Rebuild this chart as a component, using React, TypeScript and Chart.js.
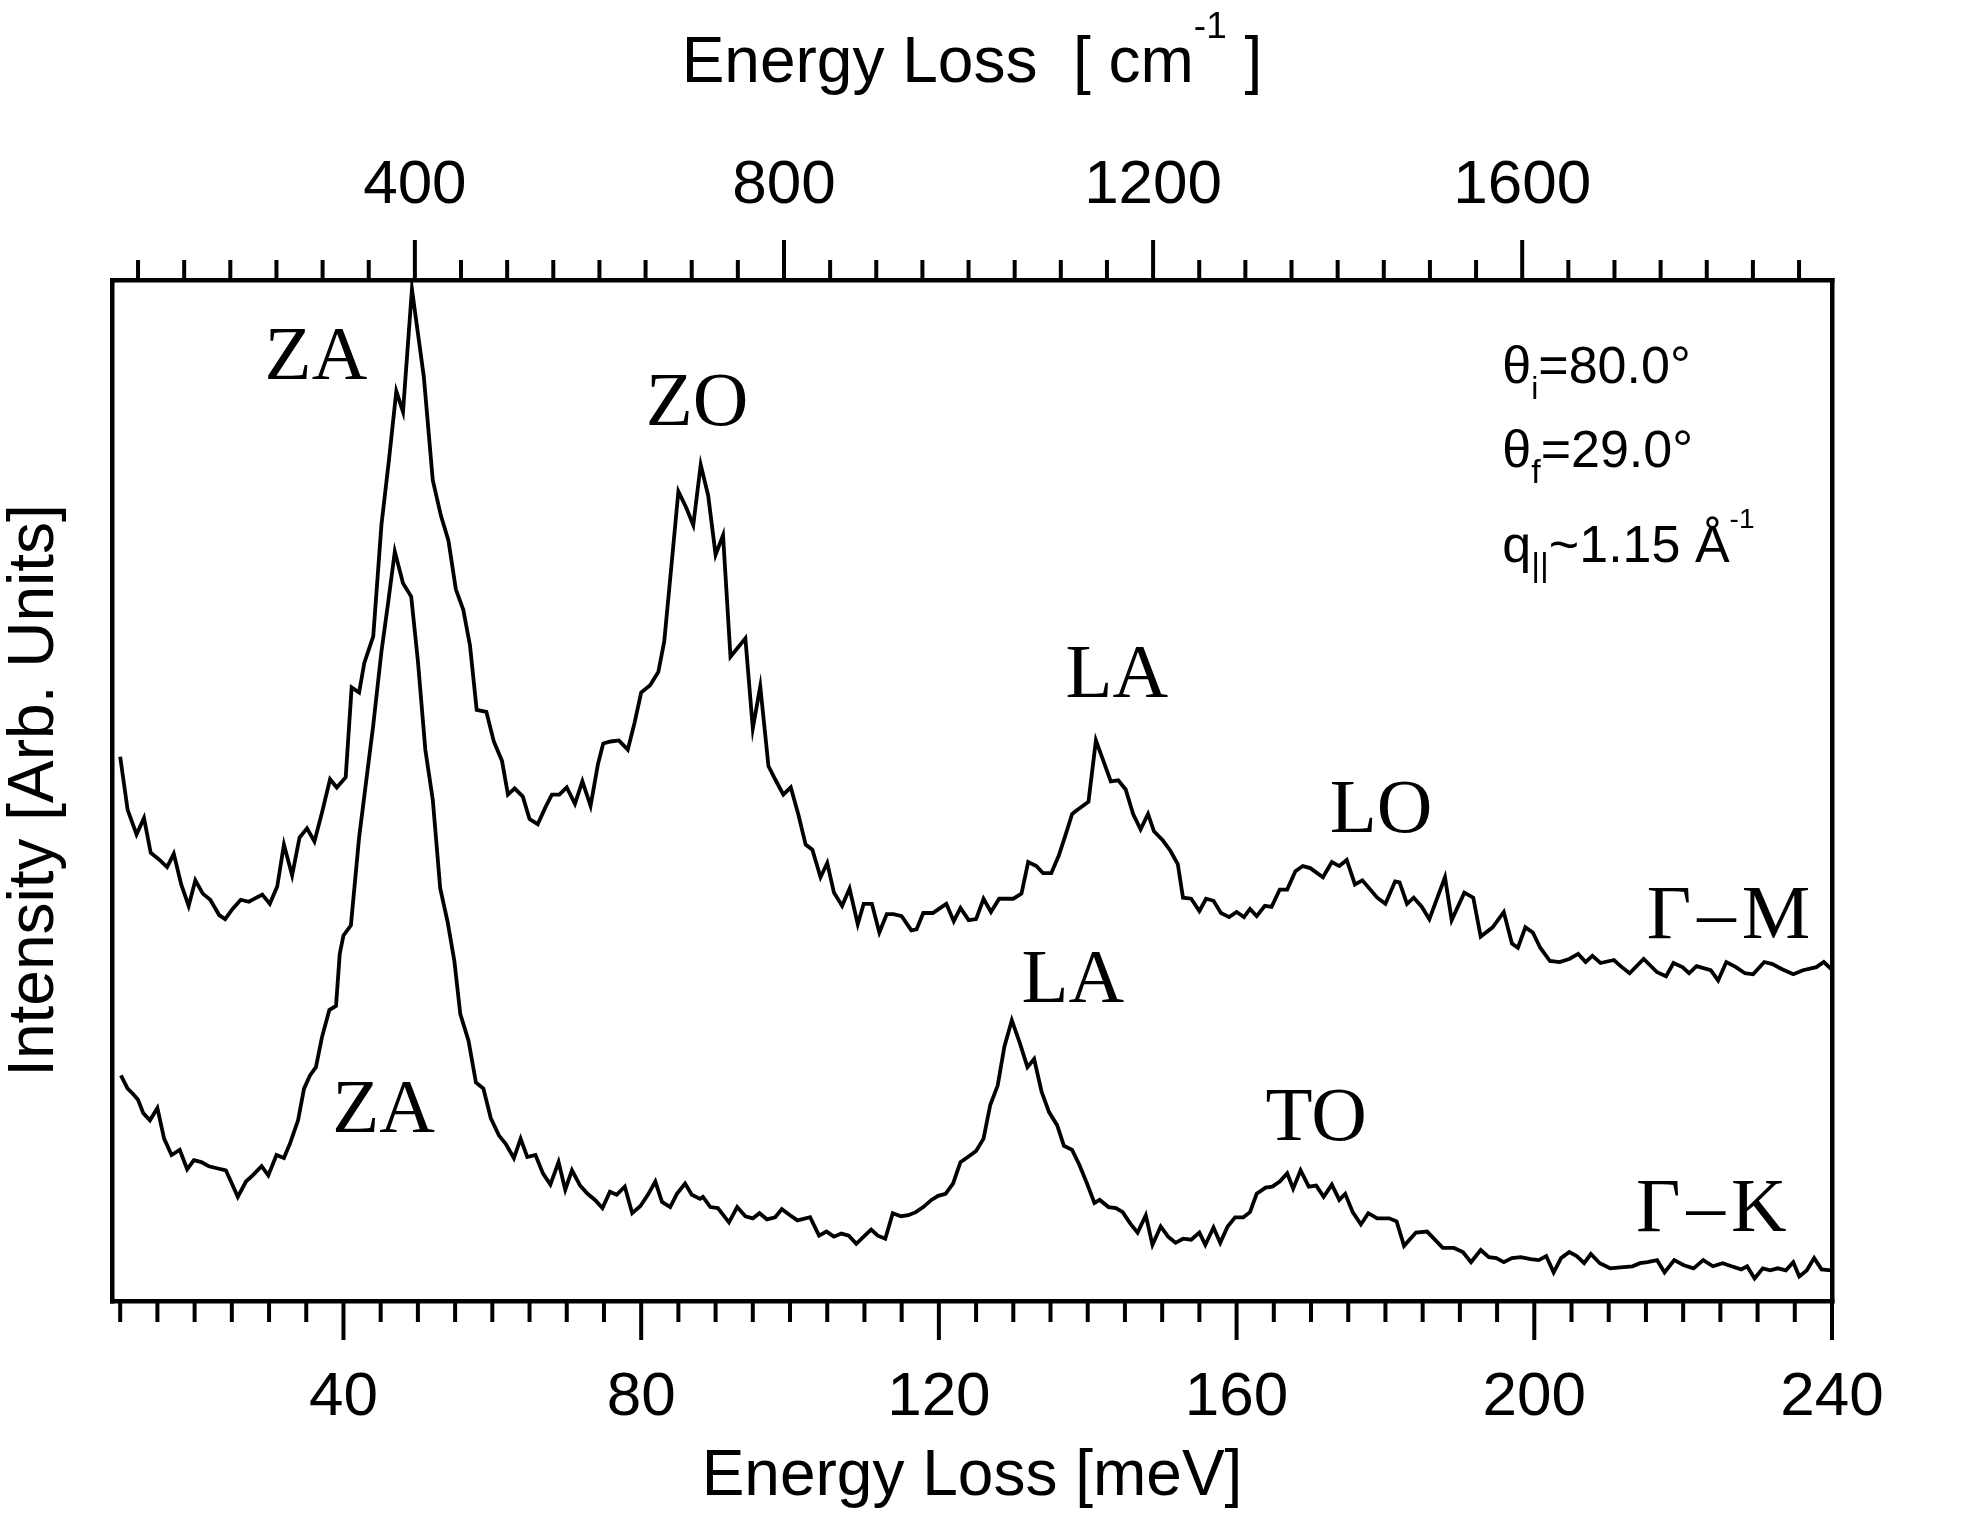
import React, { useEffect, useRef } from 'react';
import { Chart, registerables } from 'chart.js';

Chart.register(...registerables);

const SANS = '"Liberation Sans", Arial, sans-serif';
const SERIF = '"Liberation Serif", "Times New Roman", serif';

const MEV_TO_CM = 8.0655;
const X_MIN = 8.9;
const X_MAX = 240;
const Y_MIN = 0;
const Y_MAX = 100;

// Γ–M spectrum (upper curve)
const gmEnergy = [
  10.0, 11.0, 12.2, 13.2, 14.1, 15.3, 16.3, 17.2, 18.2, 19.2, 20.1, 21.1, 22.1, 23.3, 24.1, 25.1, 26.2, 27.3, 28.3, 29.1,
  30.1, 31.1, 32.0, 33.1, 34.1, 35.1, 36.1, 37.1, 38.2, 39.1, 40.3, 41.1, 42.1, 42.8, 44.0, 45.1, 46.1, 47.1, 48.0, 49.2,
  50.8, 52.0, 53.1, 54.1, 55.1, 56.1, 57.0, 57.9, 59.2, 60.2, 61.3, 62.1, 63.0, 64.1, 65.0, 66.1, 67.1, 68.0, 69.0, 70.0,
  71.1, 72.1, 73.2, 74.2, 74.9, 75.9, 77.0, 78.2, 79.1, 80.0, 81.2, 82.3, 83.1, 84.1, 85.0, 86.0, 87.0, 88.0, 89.0, 90.0,
  91.0, 92.0, 94.0, 95.0, 96.0, 97.1, 98.0, 99.1, 100.1, 101.1, 102.1, 103.0, 104.1, 105.0, 105.9, 107.0, 108.0, 109.1, 109.9, 111.0,
  112.0, 113.0, 113.9, 115.0, 116.3, 117.0, 117.9, 119.2, 120.0, 121.0, 122.0, 122.9, 124.0, 125.0, 126.0, 127.0, 128.1, 130.0, 131.1, 132.0,
  133.1, 134.0, 135.1, 136.1, 137.0, 137.9, 138.4, 140.1, 141.1, 142.1, 143.1, 144.1, 145.1, 146.1, 147.1, 148.1, 148.9, 150.1, 151.1, 152.1,
  152.8, 153.9, 155.0, 155.9, 156.9, 157.9, 159.0, 160.0, 161.0, 161.8, 162.7, 163.8, 164.7, 165.8, 166.8, 167.9, 168.9, 169.9, 171.6, 172.8,
  173.8, 174.8, 175.9, 176.9, 178.9, 180.0, 181.3, 181.9, 182.9, 183.8, 184.9, 185.9, 188.0, 188.9, 190.6, 191.8, 192.8, 194.4, 195.9, 197.0,
  197.8, 198.8, 199.8, 200.8, 202.1, 203.4, 204.7, 205.9, 206.9, 207.8, 208.9, 210.7, 211.6, 212.8, 214.7, 216.5, 217.7, 218.7, 219.9, 220.8,
  221.8, 223.7, 224.7, 225.8, 227.1, 228.3, 229.4, 230.9, 232.0, 233.3, 234.8, 236.1, 237.9, 238.9, 239.9,
];
const gmIntensity = [
  53.3, 48.1, 45.7, 47.3, 43.9, 43.2, 42.5, 43.8, 40.8, 38.7, 41.2, 39.9, 39.3, 37.8, 37.4, 38.4, 39.3, 39.1, 39.5, 39.8,
  38.9, 40.6, 44.7, 41.7, 45.4, 46.3, 45.0, 47.8, 51.1, 50.3, 51.3, 60.1, 59.6, 62.5, 65.1, 76.0, 82.3, 89.1, 87.1, 99.1,
  90.5, 80.4, 76.9, 74.5, 69.7, 67.7, 64.2, 57.9, 57.7, 54.8, 52.9, 49.6, 50.2, 49.4, 47.2, 46.7, 48.3, 49.6, 49.6, 50.3,
  48.7, 50.9, 48.5, 52.6, 54.6, 54.8, 54.9, 54.0, 56.6, 59.6, 60.3, 61.6, 64.6, 72.3, 79.3, 77.8, 76.0, 81.9, 78.9, 73.1,
  75.0, 63.1, 64.9, 56.1, 60.2, 52.4, 51.1, 49.6, 50.3, 47.7, 44.7, 44.2, 41.5, 42.9, 40.0, 38.7, 40.4, 36.9, 38.9, 38.9,
  36.1, 37.9, 37.9, 37.7, 36.3, 36.4, 38.0, 38.0, 38.4, 38.9, 37.2, 38.5, 37.3, 37.4, 39.4, 38.1, 39.4, 39.4, 39.9, 43.0,
  42.6, 41.9, 41.9, 43.6, 45.6, 47.7, 48.0, 48.9, 54.9, 52.9, 50.9, 51.0, 50.1, 47.7, 46.2, 47.7, 46.0, 45.1, 44.1, 42.8,
  39.5, 39.4, 38.2, 39.4, 39.2, 38.0, 37.6, 38.1, 37.6, 38.4, 37.7, 38.7, 38.6, 40.3, 40.3, 42.1, 42.6, 42.4, 41.5, 43.0,
  42.6, 43.2, 40.8, 41.2, 39.5, 38.9, 41.1, 41.0, 38.9, 39.5, 38.6, 37.4, 41.5, 37.3, 40.0, 39.5, 35.7, 36.6, 38.1, 35.0,
  34.6, 36.6, 36.1, 34.6, 33.3, 33.2, 33.5, 34.0, 33.2, 33.8, 33.1, 33.4, 32.8, 32.1, 33.5, 32.2, 31.8, 33.1, 32.7, 32.1,
  32.8, 32.4, 31.4, 33.2, 32.7, 32.1, 32.0, 33.2, 33.0, 32.5, 32.0, 32.4, 32.7, 33.2, 32.5,
];

// Γ–K spectrum (lower curve)
const gkEnergy = [
  10.1, 11.0, 11.7, 12.4, 13.1, 14.0, 15.0, 15.9, 16.9, 18.0, 19.0, 19.9, 20.9, 21.9, 23.0, 24.2, 25.0, 25.8, 26.9, 27.8,
  29.0, 29.9, 31.0, 32.0, 32.8, 33.9, 34.7, 35.5, 36.3, 37.1, 38.1, 39.0, 39.5, 40.0, 41.0, 42.1, 44.0, 45.1, 46.0, 46.9,
  48.0, 49.1, 50.0, 51.0, 52.0, 53.0, 54.0, 54.9, 55.7, 56.8, 57.8, 58.8, 59.8, 60.9, 61.8, 62.9, 63.8, 64.7, 65.8, 66.8,
  67.8, 68.9, 69.8, 70.7, 71.8, 72.8, 73.8, 74.8, 75.8, 76.7, 77.8, 78.8, 79.9, 80.9, 81.9, 82.8, 83.9, 84.8, 85.9, 86.8,
  87.9, 88.3, 89.3, 90.3, 91.8, 92.9, 94.0, 95.0, 95.9, 96.9, 98.0, 98.9, 100.0, 101.0, 102.7, 103.9, 104.9, 105.9, 106.9, 107.9,
  108.9, 109.9, 110.9, 111.8, 112.8, 113.8, 114.9, 115.9, 116.9, 117.9, 119.0, 119.9, 120.9, 121.9, 122.9, 123.9, 125.0, 126.0, 126.9, 127.9,
  128.8, 129.8, 130.9, 131.9, 132.8, 133.8, 134.8, 135.9, 136.8, 137.9, 138.9, 139.9, 140.9, 141.6, 142.8, 143.8, 144.7, 145.7, 146.7, 147.8,
  148.7, 149.8, 150.8, 151.8, 152.8, 153.9, 155.0, 155.8, 156.9, 157.8, 158.8, 159.8, 160.9, 161.8, 162.7, 163.9, 164.8, 165.8, 166.8, 167.6,
  168.6, 169.7, 170.7, 171.7, 172.8, 173.8, 174.6, 175.6, 176.7, 177.7, 178.9, 180.5, 181.5, 182.5, 184.1, 185.6, 187.7, 189.2, 190.4, 191.5,
  192.8, 193.9, 194.9, 195.9, 197.0, 198.2, 199.5, 200.6, 201.6, 202.6, 203.6, 204.7, 205.7, 206.7, 207.6, 208.8, 210.2, 211.6, 213.2, 214.2,
  215.2, 216.5, 217.5, 218.8, 220.1, 221.4, 222.7, 224.0, 225.3, 226.5, 227.8, 228.6, 229.6, 230.7, 231.7, 232.7, 233.8, 234.8, 235.6, 236.6,
  237.6, 238.6, 239.9,
];
const gkIntensity = [
  22.1, 20.8, 20.3, 19.7, 18.4, 17.7, 18.9, 15.9, 14.3, 14.8, 12.9, 13.8, 13.6, 13.2, 13.0, 12.8, 11.5, 10.2, 11.7, 12.3,
  13.2, 12.3, 14.3, 14.0, 15.4, 17.7, 20.8, 22.1, 22.9, 25.8, 28.5, 28.9, 34.0, 35.8, 36.8, 45.4, 56.4, 63.6, 68.4, 73.4,
  70.3, 69.0, 62.7, 54.0, 49.1, 40.4, 37.1, 33.3, 28.1, 25.5, 21.4, 20.8, 17.9, 16.2, 15.4, 14.0, 15.9, 14.1, 14.3, 12.5,
  11.4, 13.6, 10.9, 12.8, 11.3, 10.5, 9.9, 9.1, 10.7, 10.4, 11.2, 8.6, 9.3, 10.4, 11.7, 9.7, 9.2, 10.5, 11.5, 10.4,
  10.0, 10.2, 9.2, 9.1, 7.7, 9.2, 8.3, 8.1, 8.6, 8.0, 8.2, 9.0, 8.4, 7.9, 8.2, 6.4, 6.8, 6.3, 6.6, 6.4,
  5.6, 6.3, 7.0, 6.4, 6.1, 8.6, 8.3, 8.4, 8.7, 9.2, 9.9, 10.3, 10.5, 11.5, 13.6, 14.1, 14.7, 15.9, 19.2, 21.1,
  24.9, 27.5, 25.2, 22.9, 23.7, 20.5, 18.5, 17.2, 15.2, 14.8, 13.3, 11.5, 9.6, 9.9, 9.2, 9.1, 8.7, 7.6, 6.7, 8.4,
  5.5, 7.3, 6.3, 5.7, 6.1, 6.0, 6.7, 5.5, 7.2, 5.7, 7.3, 8.2, 8.2, 8.7, 10.5, 11.1, 11.2, 11.7, 12.5, 11.0,
  12.8, 11.2, 11.3, 10.2, 11.4, 9.9, 10.5, 8.7, 7.5, 8.6, 8.1, 8.1, 7.8, 5.4, 6.7, 6.8, 5.2, 5.2, 4.8, 3.8,
  5.0, 4.3, 4.2, 3.8, 4.2, 4.3, 4.1, 4.0, 4.4, 2.8, 4.2, 4.8, 4.4, 3.7, 4.6, 3.7, 3.2, 3.3, 3.4, 3.7,
  3.8, 4.0, 2.8, 4.0, 3.5, 3.2, 4.0, 3.4, 3.7, 3.4, 3.1, 3.4, 2.2, 3.2, 3.0, 3.2, 3.0, 3.8, 2.4, 3.0,
  4.2, 3.1, 3.0,
];

// Axis ticks
const bottomMajorLabels = [40, 80, 120, 160, 200, 240];
const bottomMinorStart = 10;
const bottomMinorStep = 5;
const topMajorLabels = [400, 800, 1200, 1600];
const topMinorStart = 100;
const topMinorStep = 50;

// Peak labels (energy in meV, intensity in plot units)
const peakLabelText = ['ZA', 'ZO', 'LA', 'LO', 'Γ–M', 'ZA', 'LA', 'TO', 'Γ–K'];
const peakLabelX = [36.3, 87.5, 143.9, 179.4, 226.5, 45.4, 138.0, 170.7, 224.2];
const peakLabelY = [90.3, 85.8, 59.2, 45.9, 35.6, 16.6, 29.3, 15.8, 6.9];

// Measurement parameters
const thetaI = '80.0';
const thetaF = '29.0';
const qParallel = '1.15';
const paramX = 195.7;
const paramY = [89.9, 81.7, 72.4];

type Seg = { text: string; size: number; dy?: number; w?: number };

function drawRich(ctx: CanvasRenderingContext2D, x: number, y: number, segs: Seg[], align: 'left' | 'center', family: string) {
  let total = 0;
  for (const s of segs) {
    ctx.font = `${s.size}px ${family}`;
    s.w = ctx.measureText(s.text).width;
    total += s.w;
  }
  let cx = align === 'center' ? x - total / 2 : x;
  ctx.textAlign = 'left';
  ctx.textBaseline = 'alphabetic';
  for (const s of segs) {
    ctx.font = `${s.size}px ${family}`;
    ctx.fillText(s.text, cx, y + (s.dy || 0));
    cx += s.w || 0;
  }
}

const decorPlugin = {
  id: 'decor',
  afterDraw(chart: any) {
    const ctx: CanvasRenderingContext2D = chart.ctx;
    const { x, x2, y } = chart.scales;
    const area = chart.chartArea;
    ctx.save();
    ctx.strokeStyle = '#000';
    ctx.fillStyle = '#000';
    ctx.lineWidth = 4;
    ctx.lineCap = 'butt';
    for (const t of x.ticks) {
      const px = x.getPixelForValue(t.value);
      const len = bottomMajorLabels.includes(t.value) ? 39 : 21;
      ctx.beginPath();
      ctx.moveTo(px, area.bottom);
      ctx.lineTo(px, area.bottom + len);
      ctx.stroke();
    }
    for (const t of x2.ticks) {
      const px = x2.getPixelForValue(t.value);
      const len = topMajorLabels.includes(t.value) ? 40 : 20;
      ctx.beginPath();
      ctx.moveTo(px, area.top);
      ctx.lineTo(px, area.top - len);
      ctx.stroke();
    }

    // top axis title with superscript
    drawRich(
      ctx,
      (x2.left + x2.right) / 2,
      x2.top + 82,
      [
        { text: 'Energy Loss  [ cm', size: 64 },
        { text: '-1', size: 37, dy: -44 },
        { text: ' ]', size: 64 },
      ],
      'center',
      SANS
    );

    // peak labels
    ctx.textAlign = 'center';
    ctx.textBaseline = 'alphabetic';
    ctx.font = `77px ${SERIF}`;
    for (let i = 0; i < peakLabelText.length; i++) {
      const px = x.getPixelForValue(peakLabelX[i]);
      const py = y.getPixelForValue(peakLabelY[i]);
      (ctx as any).letterSpacing = peakLabelText[i].length > 2 ? '6px' : '0px';
      ctx.fillText(peakLabelText[i], px, py);
    }
    (ctx as any).letterSpacing = '0px';

    // measurement parameters
    const ax = x.getPixelForValue(paramX);
    drawRich(ctx, ax, y.getPixelForValue(paramY[0]), [
      { text: 'θ', size: 52 },
      { text: 'i', size: 32, dy: 16 },
      { text: `=${thetaI}°`, size: 52 },
    ], 'left', SANS);
    drawRich(ctx, ax, y.getPixelForValue(paramY[1]), [
      { text: 'θ', size: 52 },
      { text: 'f', size: 34, dy: 16 },
      { text: `=${thetaF}°`, size: 52 },
    ], 'left', SANS);
    drawRich(ctx, ax, y.getPixelForValue(paramY[2]), [
      { text: 'q', size: 52 },
      { text: '||', size: 34, dy: 14 },
      { text: `~${qParallel} Å`, size: 52 },
      { text: '-1', size: 28, dy: -34 },
    ], 'left', SANS);
    ctx.restore();
  },
};

function makeTicks(start: number, stop: number, step: number) {
  const out: { value: number }[] = [];
  for (let v = start; v <= stop + 1e-9; v += step) out.push({ value: v });
  return out;
}

export default function App() {
  const canvasRef = useRef<HTMLCanvasElement | null>(null);

  useEffect(() => {
    const canvas = canvasRef.current;
    if (!canvas) return;
    const tickFont = { family: SANS, size: 62 };
    const chart = new Chart(canvas, {
      type: 'line',
      data: {
        datasets: [
          {
            label: 'Γ–M',
            data: gmEnergy.map((e, i) => ({ x: e, y: gmIntensity[i] })),
            borderColor: '#000',
            borderWidth: 3.8,
            pointRadius: 0,
            tension: 0,
            fill: false,
            xAxisID: 'x',
            yAxisID: 'y',
          },
          {
            label: 'Γ–K',
            data: gkEnergy.map((e, i) => ({ x: e, y: gkIntensity[i] })),
            borderColor: '#000',
            borderWidth: 3.8,
            pointRadius: 0,
            tension: 0,
            fill: false,
            xAxisID: 'x',
            yAxisID: 'y',
          },
        ],
      },
      options: {
        responsive: false,
        animation: false,
        events: [],
        layout: { padding: 0 },
        plugins: { legend: { display: false }, tooltip: { enabled: false } },
        scales: {
          x: {
            type: 'linear',
            position: 'bottom',
            min: X_MIN,
            max: X_MAX,
            bounds: 'data',
            afterBuildTicks: (s: any) => { s.ticks = makeTicks(bottomMinorStart, X_MAX, bottomMinorStep); },
            afterFit: (s: any) => { s.height = 219; },
            ticks: {
              autoSkip: false,
              maxRotation: 0,
              minRotation: 0,
              padding: 60,
              color: '#000',
              font: tickFont,
              callback: (v: any) => (bottomMajorLabels.includes(Number(v)) ? String(v) : ''),
            },
            grid: { display: false, drawTicks: false, lineWidth: 4.5 },
            border: { display: true, color: '#000', width: 4.5 },
            title: {
              display: true,
              text: 'Energy Loss [meV]',
              color: '#000',
              font: { family: SANS, size: 64 },
              padding: { top: 0, bottom: 4 },
            },
          },
          x2: {
            type: 'linear',
            position: 'top',
            min: X_MIN * MEV_TO_CM,
            max: X_MAX * MEV_TO_CM,
            bounds: 'data',
            afterBuildTicks: (s: any) => { s.ticks = makeTicks(topMinorStart, X_MAX * MEV_TO_CM, topMinorStep); },
            afterFit: (s: any) => { s.height = 280; },
            ticks: {
              autoSkip: false,
              maxRotation: 0,
              minRotation: 0,
              padding: 57,
              color: '#000',
              font: tickFont,
              callback: (v: any) => (topMajorLabels.includes(Number(v)) ? String(v) : ''),
            },
            grid: { display: false, drawTicks: false, lineWidth: 4.5 },
            border: { display: true, color: '#000', width: 4.5 },
          },
          y: {
            type: 'linear',
            position: 'left',
            min: Y_MIN,
            max: Y_MAX,
            afterFit: (s: any) => { s.width = 112; },
            ticks: { display: false },
            grid: { display: false, drawTicks: false, lineWidth: 4.5 },
            border: { display: true, color: '#000', width: 4.5 },
            title: {
              display: true,
              text: 'Intensity [Arb. Units]',
              color: '#000',
              font: { family: SANS, size: 64, lineHeight: 1.12 },
              padding: 0,
            },
          },
          y2: {
            type: 'linear',
            position: 'right',
            min: Y_MIN,
            max: Y_MAX,
            afterFit: (s: any) => { s.width = 144; },
            ticks: { display: false },
            grid: { display: false, drawTicks: false, lineWidth: 4.5 },
            border: { display: true, color: '#000', width: 4.5 },
          },
        },
      } as any,
      plugins: [decorPlugin],
    });
    return () => chart.destroy();
  }, []);

  return (
    <div style={{ position: 'absolute', left: 0, top: 0, width: 1976, height: 1520, background: '#fff' }}>
      <canvas ref={canvasRef} width={1976} height={1520} style={{ width: 1976, height: 1520, display: 'block' }} />
    </div>
  );
}
